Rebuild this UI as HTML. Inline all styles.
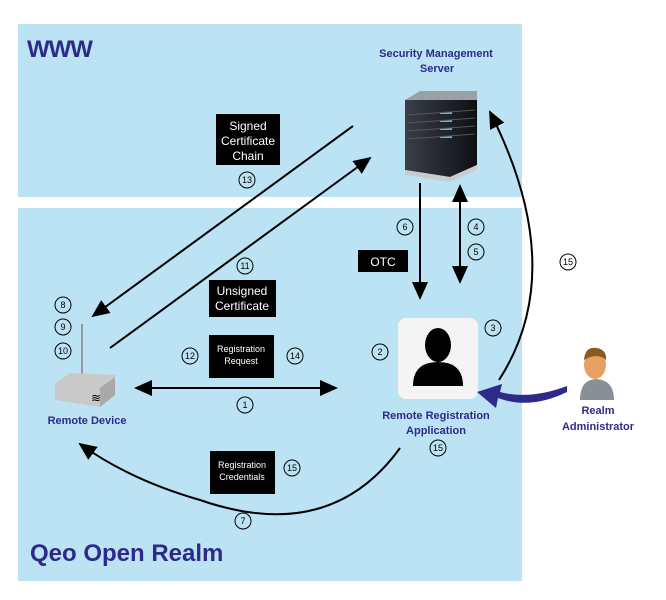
<!DOCTYPE html>
<html><head><meta charset="utf-8"><style>
html,body{margin:0;padding:0;background:#fff;}
svg{display:block;}
text{font-family:"Liberation Sans",sans-serif;}
</style></head><body>
<svg width="666" height="600" viewBox="0 0 666 600" xmlns="http://www.w3.org/2000/svg">
<defs>
<marker id="ahL" markerWidth="18" markerHeight="16" refX="16" refY="8" orient="auto" markerUnits="userSpaceOnUse"><path d="M0,0 L18,8 L0,16 z" fill="#000"/></marker>
<marker id="ahS" markerWidth="18" markerHeight="16" refX="2" refY="8" orient="auto-start-reverse" markerUnits="userSpaceOnUse"><path d="M0,0 L18,8 L0,16 z" fill="#000"/></marker>
<linearGradient id="srv" x1="0" x2="1"><stop offset="0" stop-color="#3a3f48"/><stop offset="1" stop-color="#0d0f12"/></linearGradient>
</defs>
<rect x="18" y="24" width="504" height="173" fill="#bbe3f4"/>
<rect x="18" y="208" width="504" height="373" fill="#bbe3f4"/>
<text x="27" y="57" font-size="24" font-weight="bold" fill="#2e2a8a" letter-spacing="-1">WWW</text>
<text x="30" y="561" font-size="24" font-weight="bold" fill="#2e2a8a">Qeo Open Realm</text>
<g font-size="11" font-weight="bold" fill="#2e2a8a" text-anchor="middle">
<text x="436" y="57">Security Management</text><text x="437" y="72">Server</text>
<text x="87" y="424">Remote Device</text>
<text x="436" y="419">Remote Registration</text><text x="436" y="434">Application</text>
<text x="598" y="414">Realm</text><text x="598" y="430">Administrator</text>
</g>
<polygon points="405,100 420,91 477,91 477,100" fill="#9aa0a8"/>
<polygon points="405,100 477,100 477,165 450,177 405,170" fill="url(#srv)"/>
<polygon points="405,170 450,177 477,165 477,170 450,182 405,175" fill="#c8ccd0"/>
<g fill="#5ab4ee"><rect x="440" y="112" width="12" height="2"/><rect x="440" y="120" width="12" height="2"/><rect x="440" y="128" width="12" height="2"/><rect x="440" y="136" width="12" height="2"/></g>
<g stroke="#555" stroke-width="1"><line x1="408" y1="115" x2="475" y2="110"/><line x1="408" y1="123" x2="475" y2="118"/><line x1="408" y1="131" x2="475" y2="126"/><line x1="408" y1="139" x2="475" y2="134"/></g>
<line x1="82" y1="324" x2="82" y2="390" stroke="#999" stroke-width="2"/>
<polygon points="55,383 70,373 115,375 115,395 100,407 55,400" fill="#c9c9c9"/>
<polygon points="100,388 115,377 115,395 100,407" fill="#a9a9a9"/>
<text x="96" y="402" font-size="12" text-anchor="middle">≋</text>
<rect x="398" y="318" width="80" height="81" rx="8" fill="#f4f4f4"/>
<ellipse cx="438" cy="345" rx="13" ry="17" fill="#000"/>
<path d="M413,386 Q413,362 438,362 Q463,362 463,386 Z" fill="#000"/>
<ellipse cx="595" cy="365" rx="11" ry="14" fill="#e8a060"/>
<path d="M584,360 Q585,346 597,348 Q607,350 606,360 Q598,352 584,360Z" fill="#8a5a20"/>
<path d="M580,400 Q580,380 596,379 Q614,380 614,400Z" fill="#8a8f95"/>
<g fill="#000"><rect x="216" y="114" width="64" height="51"/><rect x="209" y="280" width="67" height="37"/><rect x="358" y="250" width="50" height="22"/><rect x="209" y="335" width="65" height="43"/><rect x="210" y="451" width="65" height="43"/></g>
<g fill="#fff" text-anchor="middle">
<text x="248" y="130" font-size="12">Signed</text><text x="248" y="145" font-size="12">Certificate</text><text x="248" y="160" font-size="12">Chain</text>
<text x="242" y="295" font-size="12">Unsigned</text><text x="242" y="310" font-size="12">Certificate</text>
<text x="383" y="266" font-size="12">OTC</text>
<text x="241" y="352" font-size="9">Registration</text><text x="241" y="364" font-size="9">Request</text>
<text x="242" y="468" font-size="9">Registration</text><text x="242" y="480" font-size="9">Credentials</text>
</g>
<g stroke="#000" stroke-width="2" fill="none">
<line x1="353" y1="126" x2="93" y2="316" marker-end="url(#ahL)"/>
<line x1="110" y1="348" x2="370" y2="158" marker-end="url(#ahL)"/>
<line x1="420" y1="183" x2="420" y2="298" marker-end="url(#ahL)"/>
<line x1="460" y1="200" x2="460" y2="282" marker-start="url(#ahS)" marker-end="url(#ahL)"/>
<line x1="150" y1="388" x2="336" y2="388" marker-start="url(#ahS)" marker-end="url(#ahL)"/>
<path d="M499,380 Q570,270 490,112" marker-end="url(#ahL)"/>
<path d="M400,448 Q330,545 200,500 Q130,480 80,444" marker-end="url(#ahL)"/>
</g>
<path d="M567,392 Q530,410 498,398 L496,408 L477,392 L502,384 L500,392 Q530,400 567,386Z" fill="#2e2a8a"/>
<g fill="none" stroke="#000" stroke-width="1">
<circle cx="247" cy="180" r="8"/><circle cx="245" cy="266" r="8"/><circle cx="405" cy="227" r="8"/><circle cx="476" cy="227" r="8"/><circle cx="476" cy="252" r="8"/><circle cx="568" cy="262" r="8"/><circle cx="63" cy="305" r="8"/><circle cx="63" cy="327" r="8"/><circle cx="63" cy="351" r="8"/><circle cx="190" cy="356" r="8"/><circle cx="295" cy="356" r="8"/><circle cx="245" cy="405" r="8"/><circle cx="380" cy="352" r="8"/><circle cx="493" cy="328" r="8"/><circle cx="438" cy="448" r="8"/><circle cx="292" cy="468" r="8"/><circle cx="243" cy="521" r="8"/>
</g>
<g font-size="9" text-anchor="middle" fill="#000">
<text x="247" y="183">13</text><text x="245" y="269">11</text><text x="405" y="230">6</text><text x="476" y="230">4</text><text x="476" y="255">5</text><text x="568" y="265">15</text><text x="63" y="308">8</text><text x="63" y="330">9</text><text x="63" y="354">10</text><text x="190" y="359">12</text><text x="295" y="359">14</text><text x="245" y="408">1</text><text x="380" y="355">2</text><text x="493" y="331">3</text><text x="438" y="451">15</text><text x="292" y="471">15</text><text x="243" y="524">7</text>
</g>
</svg>
</body></html>
